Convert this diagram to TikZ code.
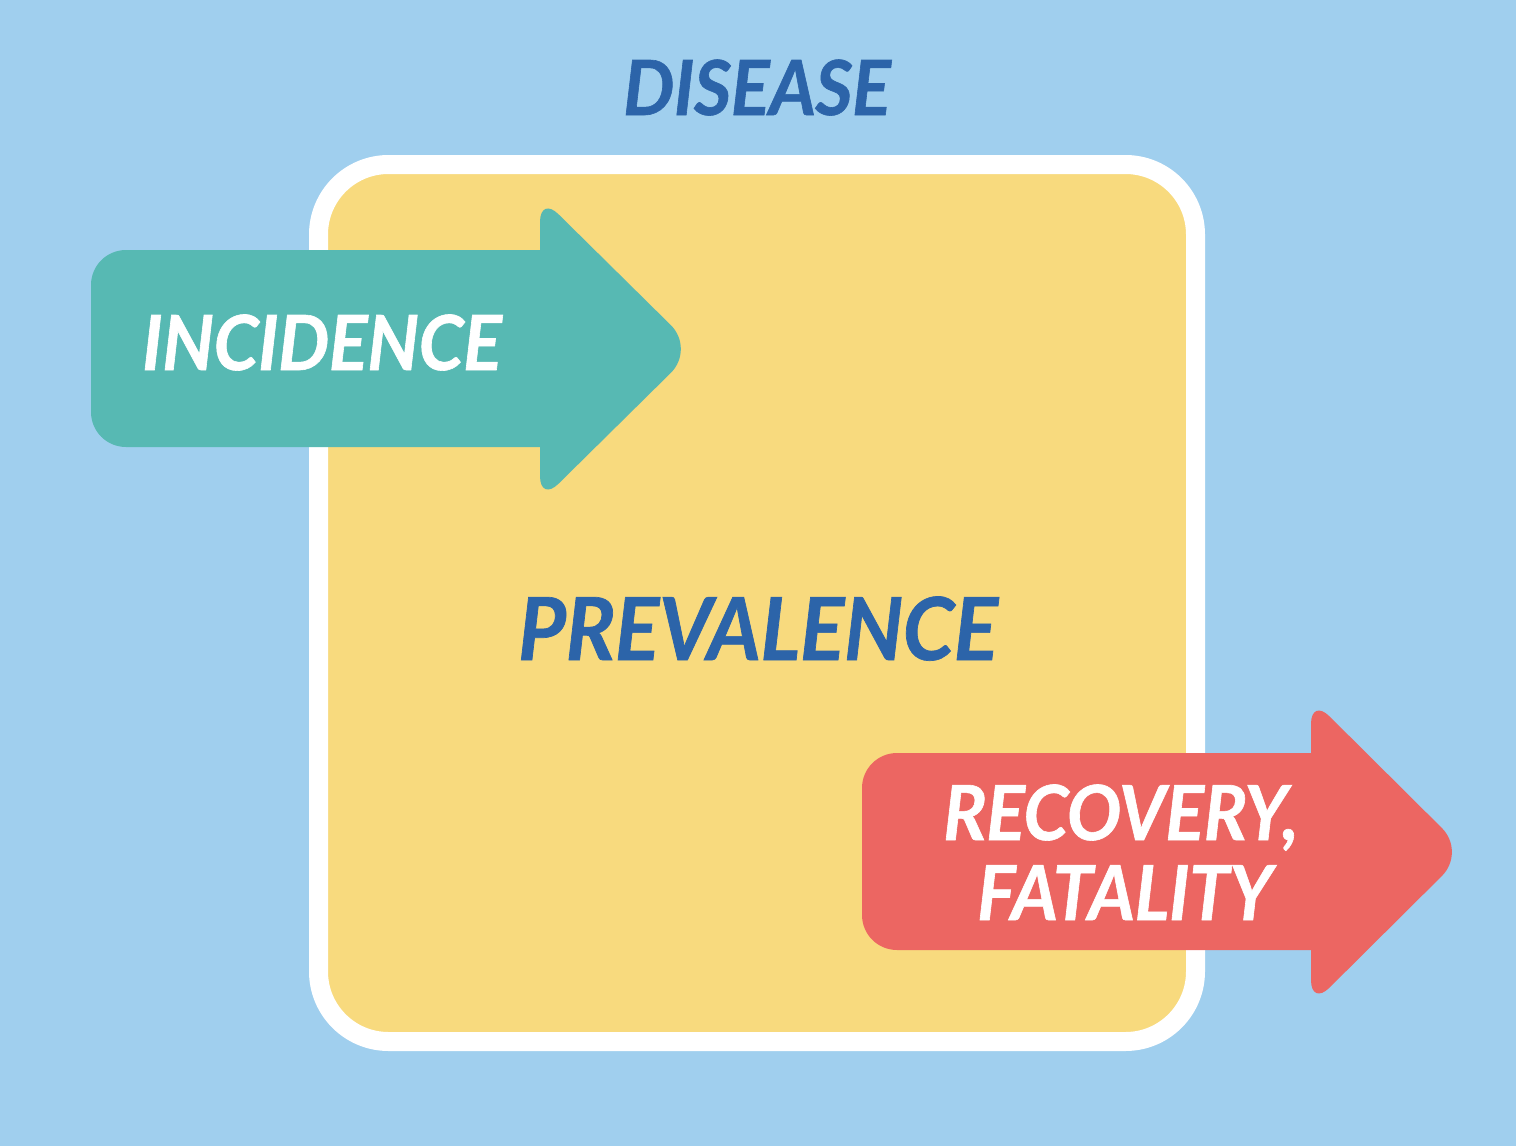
\documentclass[tikz,border=0pt]{standalone}
\usepackage{fontspec}
\setmainfont{Lato}[BoldItalicFeatures={FakeBold=0.8, FakeStretch=0.95, LetterSpace=-0.5}]
\definecolor{bgblue}{HTML}{A0CFEE}
\definecolor{boxyellow}{HTML}{F8DA7E}
\definecolor{arrteal}{HTML}{57B9B3}
\definecolor{arrred}{HTML}{EC6662}
\definecolor{txtblue}{HTML}{2C64A9}
\tikzset{
  lbl/.style={anchor=base, inner sep=0pt, font=\fontsize{76}{80}\selectfont\bfseries\itshape},
  bigarrow/.style={draw=none}
}
\begin{document}
\begin{tikzpicture}[x=1pt,y=-1pt]
\fill[bgblue] (0,0) rectangle (1516,1146);
\useasboundingbox (0,0) rectangle (1516,1146);
% prevalence box
\draw[fill=boxyellow, draw=white, line width=19pt, rounded corners=70pt] (318.5,164.5) rectangle (1195.5,1041.5);
% incidence arrow
\fill[arrteal] (540,250) [sharp corners] -- (540,228) [rounded corners=26pt] -- (540,196) [rounded corners=34pt] -- (695,349) [rounded corners=26pt] -- (540,502) [sharp corners] -- (540,470) -- (540,447) [rounded corners=35pt] -- (91,447) -- (91,250) [sharp corners] -- cycle;
% recovery arrow
\fill[arrred] (1311,753) [sharp corners] -- (1311,731) [rounded corners=26pt] -- (1311,698) [rounded corners=34pt] -- (1466,852) [rounded corners=26pt] -- (1311,1006) [sharp corners] -- (1311,972) -- (1311,950) [rounded corners=35pt] -- (862,950) -- (862,753) [sharp corners] -- cycle;
% texts
\node[lbl, text=txtblue] (disease) at (757,115) {DISEASE};
\node[lbl, text=white] (incidence) at (322,370) {INCIDENCE};
\node[lbl, text=txtblue, font=\fontsize{87}{90}\selectfont\bfseries\itshape] (prevalence) at (758,660) {PREVALENCE};
\node[lbl, text=white] (recovery) at (1121,840) {RECOVERY,};
\node[lbl, text=white] (fatality) at (1125,920) {FATALITY};
\end{tikzpicture}
\end{document}
